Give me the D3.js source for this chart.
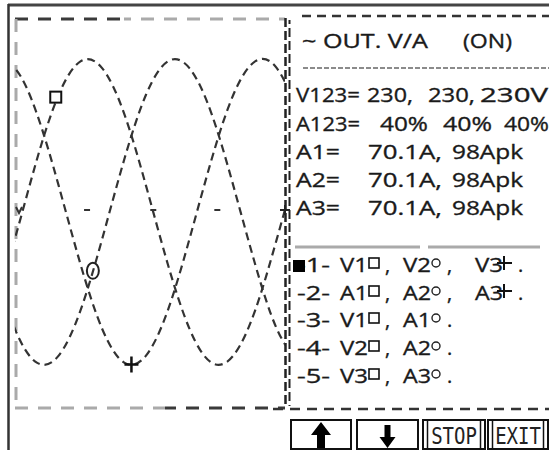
<!DOCTYPE html>
<html>
<head>
<meta charset="utf-8">
<script src="https://cdn.jsdelivr.net/npm/d3@7"></script>
<style>
  html, body { margin: 0; padding: 0; background: #fff; }
  svg { display: block; }
</style>
</head>
<body>
<svg id="chart" width="549" height="450"></svg>
<script>
// ---------- DATA ----------
// waveform sample angles (degrees) and voltages
const angles = [-30, 0, 30, 60, 90, 120, 150, 180, 210, 240, 270, 300, 330, 360, 390];
const v1Values = [-209, -56, 111, 249, 320, 305, 209, 56, -111, -249, -320, -305, -209, -56, 111];
const v2Values = [-111, -249, -320, -305, -209, -56, 111, 249, 320, 305, 209, 56, -111, -249, -320];
const v3Values = [320, 305, 209, 56, -111, -249, -320, -305, -209, -56, 111, 249, 320, 305, 209];
// cursor markers on the traces: [angle, value]
const markerSquare = [56, 244];
const markerCircle = [107, -125];
const markerPlus = [160, -324];
// centre-line tick angles
const centreTicks = [99, 190, 278];

const title = "~ OUT. V/A";
const status = "(ON)";
const infoLabels = ["V123=", "A123=", "A1=", "A2=", "A3="];
const infoValues = [
  ["230,", "230,", "230V"],
  ["40%", "40%", "40%"],
  ["70.1A,", "98Apk"],
  ["70.1A,", "98Apk"],
  ["70.1A,", "98Apk"]
];
const legendNums = ["-1-", "-2-", "-3-", "-4-", "-5-"];
const legendItems = [
  ["V1", "V2", "V3"],
  ["A1", "A2", "A3"],
  ["V1", "A1"],
  ["V2", "A2"],
  ["V3", "A3"]
];
const buttonLabels = ["up", "down", "STOP", "EXIT"];

// ---------- LAYOUT ----------
const svg = d3.select("#chart");
const font = "'Open Sans', Lato, sans-serif";
const ink = "#1a1a1a";

// outer frame
svg.append("line").attr("x1", 8).attr("x2", 549).attr("y1", 5).attr("y2", 5)
  .attr("stroke", "#444").attr("stroke-width", 3);
svg.append("line").attr("x1", 8.5).attr("x2", 8.5).attr("y1", 4).attr("y2", 450)
  .attr("stroke", "#333").attr("stroke-width", 2.5);

// scope box
const box = {x0: 15, x1: 285, y0: 19, y1: 408};
const x = d3.scaleLinear().domain([0, 371]).range([box.x0, box.x1]);
const y = d3.scaleLinear().domain([-325, 325]).range([365, 59]);

function dashed(x1, y1, x2, y2, color, w, dash, off) {
  svg.append("line").attr("x1", x1).attr("y1", y1).attr("x2", x2).attr("y2", y2)
    .attr("stroke", color).attr("stroke-width", w)
    .attr("stroke-dasharray", dash).attr("stroke-dashoffset", off || 0);
}
dashed(box.x0, box.y0, 124, box.y0, "#3a3a3a", 3, "13,10");
dashed(124, box.y0, box.x1, box.y0, "#aaa", 3, "13,10", 6);
dashed(box.x0 + 1, box.y0, box.x0 + 1, box.y1, "#aaa", 3, "13,10");
dashed(box.x0, box.y1, 165, box.y1, "#aaa", 3, "13,10");
dashed(165, box.y1, box.x1, box.y1, "#3a3a3a", 3, "13,10", 2);
// double dashed divider
dashed(285.5, 18, 285.5, 408, "#222", 2.5, "9,4");
dashed(289.5, 20, 289.5, 406, "#222", 2, "9,4", 5);

// right panel frame lines
dashed(302, 16, 549, 16, "#333", 2.5, "9,6");
dashed(273, 409, 549, 409, "#333", 2.5, "10,7");

// clip for waves
svg.append("clipPath").attr("id", "clip").append("rect")
  .attr("x", box.x0).attr("y", box.y0).attr("width", box.x1 - box.x0).attr("height", box.y1 - box.y0);

const line = d3.line().x(d => x(d[0])).y(d => y(d[1])).curve(d3.curveNatural);
const g = svg.append("g").attr("clip-path", "url(#clip)");
[v1Values, v2Values, v3Values].forEach(vals => {
  g.append("path")
    .datum(angles.map((a, i) => [a, vals[i]]))
    .attr("d", line)
    .attr("fill", "none")
    .attr("stroke", "#333")
    .attr("stroke-width", 2.2)
    .attr("stroke-dasharray", "8,5");
});

// centre line marks
const y0 = y(0) - 2;
centreTicks.forEach(a => {
  svg.append("line").attr("x1", x(a) - 3).attr("x2", x(a) + 3).attr("y1", y0).attr("y2", y0)
    .attr("stroke", "#333").attr("stroke-width", 2);
});
svg.append("path").attr("d", `M${box.x0 + 1},${y0 - 3} L${box.x0 + 4},${y0 + 3} L${box.x0 + 7},${y0 - 3}`)
  .attr("fill", "none").attr("stroke", "#333").attr("stroke-width", 2);
svg.append("path").attr("d", `M${box.x1 - 5},${y0} H${box.x1 + 5} M${box.x1},${y0 - 5} V${y0 + 5}`)
  .attr("stroke", "#222").attr("stroke-width", 2);

// trace markers
svg.append("rect").attr("x", x(markerSquare[0]) - 5.5).attr("y", y(markerSquare[1]) - 5.5)
  .attr("width", 11).attr("height", 11).attr("fill", "#fff").attr("stroke", "#111").attr("stroke-width", 2);
svg.append("ellipse").attr("cx", x(markerCircle[0])).attr("cy", y(markerCircle[1]))
  .attr("rx", 6).attr("ry", 8).attr("fill", "none").attr("stroke", "#222").attr("stroke-width", 2);
{
  const px = x(markerPlus[0]), py = y(markerPlus[1]);
  svg.append("path").attr("d", `M${px - 7},${py} H${px + 7} M${px},${py - 8} V${py + 8}`)
    .attr("stroke", "#111").attr("stroke-width", 2.5);
}

// ---------- RIGHT PANEL TEXT ----------
function txt(s, tx, ty, opts) {
  const t = svg.append("text").attr("x", tx).attr("y", ty).text(s)
    .attr("font-family", font).attr("font-size", 20).attr("fill", ink)
    .attr("stroke", ink).attr("stroke-width", 0.35)
    .style("white-space", "pre");
  if (opts && opts.len) t.attr("textLength", opts.len).attr("lengthAdjust", "spacingAndGlyphs");
  return t;
}
txt(title, 302, 48, {len: 126});
txt(status, 463, 48, {len: 49});
dashed(303, 68, 549, 68, "#666", 1.5, "5,2");

const infoY = [102, 131, 159, 187, 215];
const valueCols = [[367, 428, 480], [380, 443, 504], [368, 452], [368, 452], [368, 452]];
const valueLens = [[46, 47, 68], [48, 49, 45], [74, 71], [74, 71], [74, 71]];
const labelLens = [64, 64, 44, 44, 44];
infoLabels.forEach((lab, i) => {
  txt(lab, 296, infoY[i], {len: labelLens[i]});
  infoValues[i].forEach((v, j) => txt(v, valueCols[i][j], infoY[i], {len: valueLens[i][j]}));
});

// separator
svg.append("line").attr("x1", 295).attr("x2", 420).attr("y1", 247).attr("y2", 247)
  .attr("stroke", "#aaa").attr("stroke-width", 3);
svg.append("line").attr("x1", 428).attr("x2", 540).attr("y1", 247).attr("y2", 247)
  .attr("stroke", "#aaa").attr("stroke-width", 3);

// legend lines
const legY = [272, 300, 327, 355, 383];
const itemX = [340, 403, 475];
legendNums.forEach((n, i) => {
  txt(n, 297, legY[i], {len: 33});
  const items = legendItems[i];
  items.forEach((it, j) => {
    txt(it, itemX[j], legY[i], {len: 28});
    const cy = legY[i] - 9;
    if (j === 0) {
      svg.append("rect").attr("x", 369).attr("y", cy - 5).attr("width", 10).attr("height", 10)
        .attr("fill", "#fff").attr("stroke", "#111").attr("stroke-width", 1.6);
    } else if (j === 1) {
      svg.append("circle").attr("cx", 436).attr("cy", cy).attr("r", 4)
        .attr("fill", "#fff").attr("stroke", "#222").attr("stroke-width", 1.4);
    } else {
      svg.append("path").attr("d", `M${497},${cy} H${512} M${504},${cy - 7} V${cy + 7}`)
        .attr("stroke", "#111").attr("stroke-width", 2);
    }
    const last = j === items.length - 1;
    const px = [385, 447, 518][j];
    txt(last ? "." : ",", px, legY[i]);
  });
});
// cursor block
svg.append("rect").attr("x", 293).attr("y", 260).attr("width", 12).attr("height", 12).attr("fill", "#000");

// ---------- BUTTONS ----------
const btnX = [291, 357, 423, 488];
const btnW = [60, 61, 62, 60];
buttonLabels.forEach((b, i) => {
  svg.append("rect").attr("x", btnX[i]).attr("y", 420).attr("width", btnW[i]).attr("height", 29)
    .attr("fill", "#fff").attr("stroke", "#111").attr("stroke-width", 2);
  const cx = btnX[i] + btnW[i] / 2;
  if (b === "up") {
    svg.append("path").attr("d", `M${cx},422 L${cx + 10},435 L${cx + 4},435 L${cx + 4},448 L${cx - 4},448 L${cx - 4},435 L${cx - 10},435 Z`)
      .attr("fill", "#000");
  } else if (b === "down") {
    svg.append("path").attr("d", `M${cx - 3},425 L${cx + 3},425 L${cx + 3},437 L${cx + 8},437 L${cx},448 L${cx - 8},437 L${cx - 3},437 Z`)
      .attr("fill", "#000");
  } else {
    svg.append("line").attr("x1", btnX[i] + 4.5).attr("x2", btnX[i] + 4.5).attr("y1", 420).attr("y2", 449)
      .attr("stroke", "#111").attr("stroke-width", 1.5);
    svg.append("line").attr("x1", btnX[i] + btnW[i] - 4.5).attr("x2", btnX[i] + btnW[i] - 4.5).attr("y1", 420).attr("y2", 449)
      .attr("stroke", "#111").attr("stroke-width", 1.5);
    svg.append("text").attr("transform", `translate(${cx},444) scale(1,1.2)`)
      .attr("text-anchor", "middle").text(b)
      .attr("font-family", "'DejaVu Sans Mono', monospace").attr("font-size", 19)
      .attr("fill", "#222");
  }
});
</script>
</body>
</html>
